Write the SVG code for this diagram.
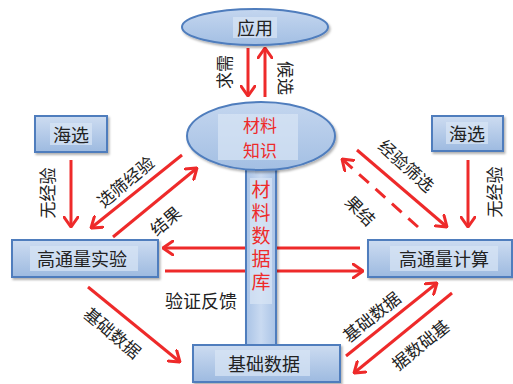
<svg xmlns="http://www.w3.org/2000/svg" width="513" height="384" viewBox="0 0 513 384">
<defs>
<linearGradient id="gBox" x1="0" y1="0" x2="0" y2="1">
<stop offset="0" stop-color="#cddcf1"/>
<stop offset="1" stop-color="#9dbae0"/>
</linearGradient>
<linearGradient id="gEll" x1="0" y1="0" x2="0" y2="1">
<stop offset="0" stop-color="#c4d6ef"/>
<stop offset="1" stop-color="#a3bfe3"/>
</linearGradient>
<linearGradient id="gCol" x1="0" y1="0" x2="1" y2="0">
<stop offset="0" stop-color="#a9c3e6"/>
<stop offset="0.5" stop-color="#c9daf1"/>
<stop offset="1" stop-color="#a9c3e6"/>
</linearGradient>
<filter id="sh" x="-10%" y="-10%" width="130%" height="140%">
<feDropShadow dx="1.5" dy="2" stdDeviation="1.2" flood-color="#000" flood-opacity="0.3"/>
</filter>
<marker id="ah" viewBox="0 0 12 16" refX="11" refY="8" markerWidth="12" markerHeight="16" markerUnits="userSpaceOnUse" orient="auto">
<path d="M1,1 L11,8 L1,15" fill="none" stroke="#ee2a2a" stroke-width="3" stroke-linecap="round" stroke-linejoin="miter"/>
</marker>
</defs>
<style>
.box{fill:url(#gBox);stroke:#4f7dbd;stroke-width:2;filter:url(#sh)}
.ell{fill:url(#gEll);stroke:#4f7dbd;stroke-width:2;filter:url(#sh)}
.tbg{fill:#d9e5f5;opacity:0.7}
.t{font-family:"Noto Sans CJK SC","Noto Sans",sans-serif;font-size:18px;fill:#222;text-anchor:middle;dominant-baseline:central}
.lbl{font-family:"Noto Sans CJK SC","Noto Sans",sans-serif;font-size:17px;fill:#222;text-anchor:middle;dominant-baseline:central}
.red{fill:#ee2a2a}
.a{stroke:#ee2a2a;stroke-width:3;fill:none;marker-end:url(#ah)}
.d{stroke-dasharray:13 9}
.vt{font-family:"Noto Sans CJK SC","Noto Sans",sans-serif;font-size:19px;fill:#ee2a2a;writing-mode:vertical-rl;letter-spacing:4px}
</style>

<g id="connectors">
<line class="a" x1="248" y1="48" x2="248" y2="96"/>
<line class="a" x1="265" y1="97" x2="265" y2="48"/>
<line class="a" x1="71" y1="160" x2="71" y2="227"/>
<line class="a" x1="182" y1="155" x2="91" y2="228"/>
<line class="a" x1="113" y1="237" x2="197" y2="168"/>
<line class="a" x1="468" y1="160" x2="468" y2="227"/>
<line class="a" x1="357" y1="150" x2="447" y2="227"/>
<line class="a d" x1="418" y1="227" x2="342" y2="159"/>
<line class="a" x1="360" y1="248" x2="163" y2="248"/>
<line class="a" x1="165" y1="271" x2="363" y2="271"/>
<line class="a" x1="88" y1="287" x2="180" y2="362"/>
<line class="a" x1="346" y1="356" x2="437" y2="283"/>
<line class="a" x1="452" y1="293" x2="354" y2="373"/>
</g>

<g id="labels">
<text class="lbl" transform="translate(223,72) rotate(-90)">求需</text>
<text class="lbl" transform="translate(286,78) rotate(90)">候选</text>
<text class="lbl" transform="translate(46,193) rotate(-90)">无经验</text>
<text class="lbl" transform="translate(493,192) rotate(-90)">无经验</text>
<text class="lbl" transform="translate(125,181) rotate(-40)">选筛经验</text>
<text class="lbl" transform="translate(165,220) rotate(-40)">结果</text>
<text class="lbl" transform="translate(407,165) rotate(42)">经验筛选</text>
<text class="lbl" transform="translate(361,210) rotate(45)">果结</text>
<text class="t" x="201" y="300">验证反馈</text>
<text class="lbl" transform="translate(113,332) rotate(40)">基础数据</text>
<text class="lbl" transform="translate(371,316) rotate(-39)">基础数据</text>
<text class="lbl" transform="translate(420,344) rotate(-39)">据数础基</text>
</g>

<g id="n-app">
<ellipse class="ell" cx="255" cy="27" rx="73" ry="18"/>
<rect class="tbg" x="233" y="17" width="44" height="21"/>
<text class="t" x="255" y="27">应用</text>
</g>

<g id="n-db">
<rect x="246" y="160" width="30" height="186" fill="url(#gCol)" stroke="#4f7dbd" stroke-width="2" filter="url(#sh)"/>
<rect class="tbg" x="250" y="178" width="22" height="126"/>
<text class="vt" x="261" y="180">材料数据库</text>
</g>

<g id="n-know">
<ellipse class="ell" cx="261" cy="136" rx="74" ry="34"/>
<rect class="tbg" x="218" y="114" width="80" height="46"/>
<text class="t red" style="font-size:17px" x="260" y="124">材料<tspan x="260" dy="25">知识</tspan></text>
</g>

<g id="n-hx-l">
<rect class="box" x="35" y="116" width="72" height="36"/>
<rect class="tbg" x="50" y="123" width="42" height="22"/>
<text class="t" x="71" y="134">海选</text>
</g>

<g id="n-hx-r">
<rect class="box" x="432" y="116" width="71" height="35"/>
<rect class="tbg" x="446" y="122" width="42" height="22"/>
<text class="t" x="467" y="133">海选</text>
</g>

<g id="n-exp">
<rect class="box" x="12" y="240" width="146" height="37"/>
<rect class="tbg" x="30" y="246" width="108" height="25"/>
<text class="t" x="82" y="258">高通量实验</text>
</g>

<g id="n-calc">
<rect class="box" x="368" y="240" width="144" height="37"/>
<rect class="tbg" x="390" y="246" width="108" height="25"/>
<text class="t" x="444" y="258">高通量计算</text>
</g>

<g id="n-base">
<rect class="box" x="193" y="345" width="147" height="37"/>
<rect class="tbg" x="215" y="350" width="95" height="26"/>
<text class="t" x="264" y="363">基础数据</text>
</g>
</svg>
